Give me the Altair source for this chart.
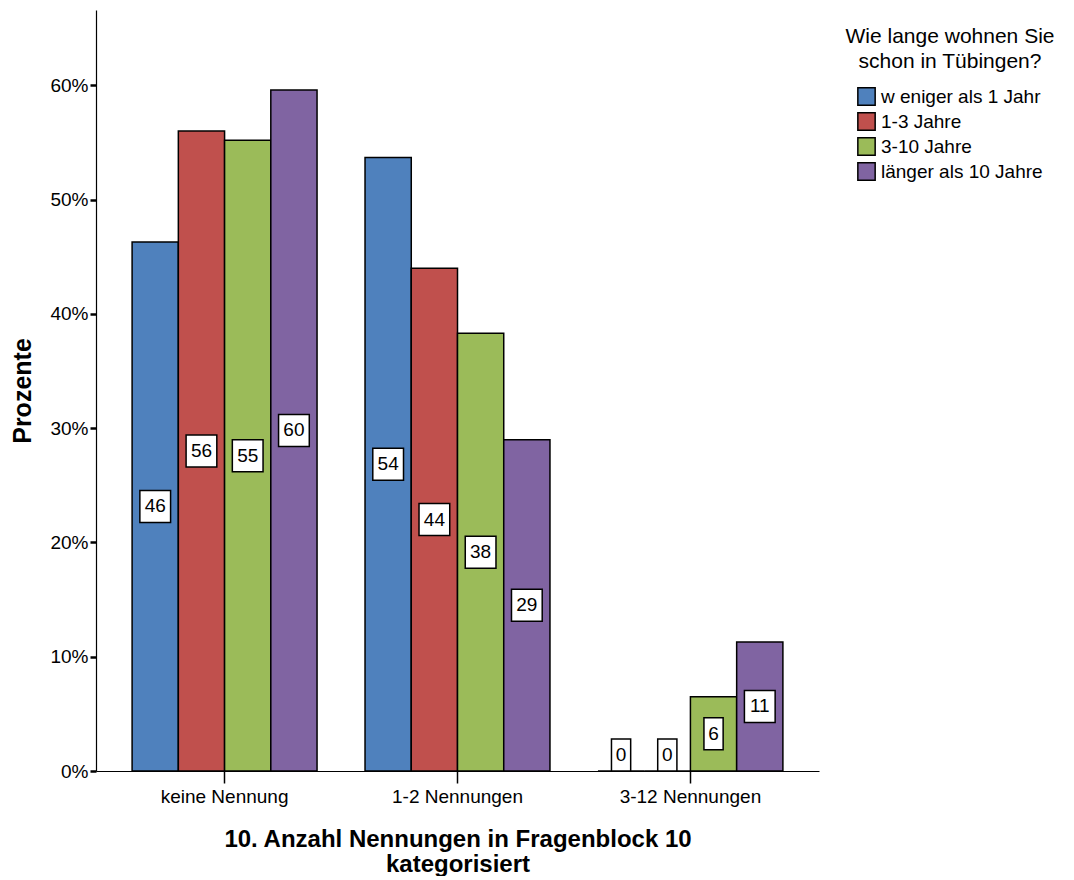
import altair as alt
import pandas as pd

categories = ["keine Nennung", "1-2 Nennungen", "3-12 Nennungen"]
groups = ["w eniger als 1 Jahr", "1-3 Jahre", "3-10 Jahre", "länger als 10 Jahre"]
colors = ["#4F81BD", "#C0504D", "#9BBB59", "#8064A2"]
values = {
    "keine Nennung": [46.3, 56.0, 55.2, 59.6],
    "1-2 Nennungen": [53.7, 44.0, 38.3, 29.0],
    "3-12 Nennungen": [0.0, 0.0, 6.5, 11.3],
}

rows = []
for c in categories:
    for g, v in zip(groups, values[c]):
        lab = str(int(round(v)))
        rows.append({"cat": c, "grp": g, "val": v, "lab": lab,
                     "digits": str(len(lab)), "lpos": max(v / 2, 1.4)})
df = pd.DataFrame(rows)

FONT = "Liberation Sans"

x = alt.X("cat:N", sort=categories,
          scale=alt.Scale(paddingInner=0.206, paddingOuter=0.155),
          axis=alt.Axis(title=["10. Anzahl Nennungen in Fragenblock 10", "kategorisiert"],
                        labelAngle=0, labelFontSize=19, labelColor="black",
                        titleFontSize=24, titleFontWeight="bold", titleColor="black",
                        titleLineHeight=25,
                        tickSize=12, tickColor="black", tickWidth=1.5,
                        domainColor="black", domainWidth=1.2,
                        labelPadding=4, titlePadding=21))
xo = alt.XOffset("grp:N", sort=groups, scale=alt.Scale(paddingInner=0, paddingOuter=0))

base = alt.Chart(df)

bars = base.mark_bar(stroke="black", strokeWidth=1.5, opacity=1).encode(
    x=x, xOffset=xo,
    y=alt.Y("val:Q", scale=alt.Scale(domain=[0, 66.6], nice=False),
            axis=alt.Axis(title="Prozente", values=[0, 10, 20, 30, 40, 50, 60],
                          labelExpr="datum.value + '%'", grid=False,
                          labelFontSize=19, labelColor="black",
                          titleFontSize=25, titleFontWeight="bold", titleColor="black",
                          tickSize=6, tickColor="black", tickWidth=2.5,
                          domainColor="black", domainWidth=1.2, labelPadding=2,
                          titlePadding=14)),
    color=alt.Color("grp:N", sort=groups,
                    scale=alt.Scale(domain=groups, range=colors),
                    legend=alt.Legend(title=["Wie lange wohnen Sie", "schon in Tübingen?"],
                                      orient="none", legendX=750, legendY=16,
                                      titleFontSize=21, titleFontWeight="normal",
                                      titleColor="black", titleAnchor="middle",
                                      titleAlign="center", titleLineHeight=25,
                                      titlePadding=15, titleLimit=400,
                                      labelFontSize=19, labelLimit=400,
                                      labelColor="black", symbolType="square",
                                      symbolSize=300, symbolStrokeColor="black",
                                      symbolStrokeWidth=1.5, symbolOpacity=1,
                                      rowPadding=0, labelOffset=5)),
)

box1 = "M-0.6,-1H0.6V1H-0.6Z"
box2 = "M-0.96,-1H0.96V1H-0.96Z"

boxes = base.mark_point(filled=True, fill="white", stroke="black", strokeWidth=1.5,
                        opacity=1).encode(
    x=x, xOffset=xo,
    y=alt.Y("lpos:Q"),
    shape=alt.Shape("digits:N", scale=alt.Scale(domain=["1", "2"], range=[box1, box2]),
                    legend=None),
    size=alt.value(1024),
)

texts = base.mark_text(fontSize=19, color="black", font=FONT, baseline="middle").encode(
    x=x, xOffset=xo,
    y=alt.Y("lpos:Q"),
    text="lab:N",
)

chart = alt.layer(bars, boxes, texts).properties(
    width=723, height=761, padding={"left": 2, "top": 2, "right": 0, "bottom": 0}
).configure(font=FONT).configure_view(stroke=None)

chart.save("out.html", embed_options={"renderer": "svg", "actions": False})
